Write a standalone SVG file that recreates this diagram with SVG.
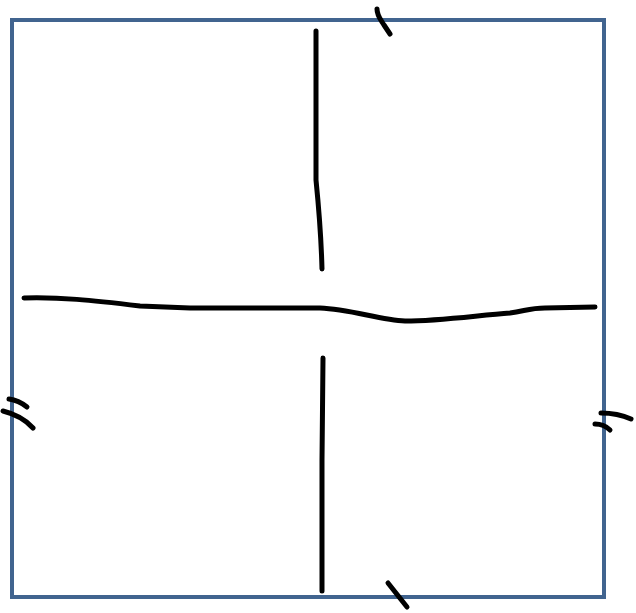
<svg xmlns="http://www.w3.org/2000/svg" width="636" height="613" viewBox="0 0 636 613">
<style>
.frame{fill:none;stroke:#41648f;stroke-width:4}
.ink{fill:none;stroke:#000;stroke-width:5;stroke-linecap:round;stroke-linejoin:round}
</style>
<rect width="636" height="613" fill="#fff"/>
<g id="frame"><rect class="frame" x="12" y="20" width="592" height="577"/></g>
<g id="lines">
<path class="ink" d="M24,298 C60,297 90,300 140,306 L190,308 L320,308 C350,309 380,320 405,321 C440,321 480,315 510,313 C525,311 530,308 545,308 L595,307"/>
<path class="ink" d="M316,31 L316,180 C318,200 321,230 322,269"/>
<path class="ink" d="M323,358 L322,460 L322,591"/>
</g>
<g id="ticks">
<path class="ink" d="M377,9 C377,16 381,20 384,25 C386,28 388,31 390,34"/>
<path class="ink" d="M388,583 L407,607"/>
<path class="ink" d="M9,399 C17,400 22,403 27,407"/>
<path class="ink" d="M3,411 C15,414 26,420 33,428"/>
<path class="ink" d="M601,413 C612,413 622,415 631,419"/>
<path class="ink" d="M595,424 C601,424 606,426 610,430"/>
</g>
</svg>
